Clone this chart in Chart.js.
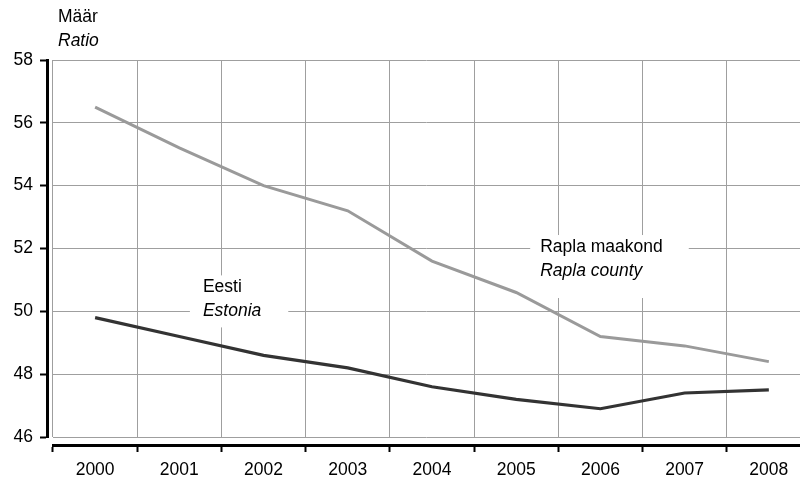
<!DOCTYPE html>
<html>
<head>
<meta charset="utf-8">
<script src="https://cdn.jsdelivr.net/npm/chart.js@4"></script>
<style>
html,body{margin:0;padding:0;background:#fff;}
canvas{display:block;}
</style>
</head>
<body>
<canvas id="c" width="800" height="479"></canvas>
<script>
// ---- data ----
const years = [2000, 2001, 2002, 2003, 2004, 2005, 2006, 2007, 2008];
const raplaCounty = [56.5, 55.2, 54.0, 53.2, 51.6, 50.6, 49.2, 48.9, 48.4];
const estonia = [49.8, 49.2, 48.6, 48.2, 47.6, 47.2, 46.9, 47.4, 47.5];
const yTicks = [46, 48, 50, 52, 54, 56, 58];
const yTitle = ['Määr', 'Ratio'];
const raplaLabel = ['Rapla maakond', 'Rapla county'];
const estoniaLabel = ['Eesti', 'Estonia'];

// ---- presentation ----
const FONT = "'Liberation Sans', Arial, sans-serif";
const FS = 17.5;
const GRID = '#9f9f9f';

const annotations = [
  {lines: estoniaLabel, x: 2001.28, y: 50.38, pad: {l: 13, r: 27, t: 24, b: 28}},
  {lines: raplaLabel, x: 2005.285, y: 51.665, pad: {l: 10, r: 26, t: 24, b: 39}}
];

const labelPlugin = {
  id: 'labels',
  beforeDatasetsDraw(chart) {
    const ctx = chart.ctx;
    const xs = chart.scales.x, ys = chart.scales.y;
    ctx.save();
    annotations.forEach(a => {
      const px = xs.getPixelForValue(a.x);
      const py = ys.getPixelForValue(a.y);
      const lh = 23.5;
      ctx.font = FS + 'px ' + FONT;
      const w1 = ctx.measureText(a.lines[0]).width;
      ctx.font = 'italic ' + FS + 'px ' + FONT;
      const w2 = ctx.measureText(a.lines[1]).width;
      const w = Math.max(w1, w2);
      ctx.fillStyle = '#fff';
      ctx.fillRect(px - a.pad.l, py - a.pad.t, w + a.pad.l + a.pad.r, a.pad.t + a.pad.b);
      ctx.fillStyle = '#000';
      ctx.textBaseline = 'middle';
      ctx.textAlign = 'left';
      ctx.font = FS + 'px ' + FONT;
      ctx.fillText(a.lines[0], px, py - lh / 2);
      ctx.font = 'italic ' + FS + 'px ' + FONT;
      ctx.fillText(a.lines[1], px, py + lh / 2);
    });
    ctx.restore();
  },
  afterDraw(chart) {
    const ctx = chart.ctx;
    const left = chart.chartArea.left;
    ctx.save();
    ctx.fillStyle = '#000';
    ctx.textBaseline = 'middle';
    ctx.textAlign = 'left';
    ctx.font = FS + 'px ' + FONT;
    ctx.fillText(yTitle[0], left + 5, 17);
    ctx.font = 'italic ' + FS + 'px ' + FONT;
    ctx.fillText(yTitle[1], left + 5, 41);
    ctx.restore();
  }
};

const setYearTicks = s => { s.ticks = years.map(v => ({value: v})); };
const setYTicks = s => { s.ticks = yTicks.map(v => ({value: v})); };

new Chart(document.getElementById('c'), {
  type: 'line',
  data: {
    datasets: [
      {
        label: raplaLabel[0],
        data: years.map((yr, i) => ({x: yr, y: raplaCounty[i]})),
        borderColor: '#9a9a9a',
        borderWidth: 3,
        pointRadius: 0,
        tension: 0,
        fill: false
      },
      {
        label: estoniaLabel[0],
        data: years.map((yr, i) => ({x: yr, y: estonia[i]})),
        borderColor: '#333333',
        borderWidth: 3.2,
        pointRadius: 0,
        tension: 0,
        fill: false
      }
    ]
  },
  options: {
    responsive: false,
    animation: false,
    devicePixelRatio: 1,
    layout: {padding: {top: 60, left: 0, right: 0, bottom: 0}},
    plugins: {legend: {display: false}, tooltip: {enabled: false}, title: {display: false}},
    scales: {
      x: {
        type: 'linear', position: 'bottom', weight: 0,
        min: 1999.5, max: 2008.37,
        afterBuildTicks: setYearTicks,
        afterFit: s => { s.height = 8; },
        grid: {offset: true, color: GRID, lineWidth: 1, drawTicks: true, tickLength: 8, tickColor: 'rgba(0,0,0,0)'},
        border: {display: false},
        ticks: {display: false}
      },
      x2: {
        type: 'linear', position: 'bottom', weight: 1,
        min: 1999.5, max: 2008.37,
        afterBuildTicks: setYearTicks,
        afterFit: s => { s.height = 34; },
        grid: {display: true, offset: true, drawOnChartArea: false, drawTicks: true, tickLength: 7, tickColor: '#000', tickWidth: 2},
        border: {display: true, color: '#000', width: 3},
        ticks: {autoSkip: false, maxRotation: 0, color: '#000', padding: 8, font: {family: FONT, size: FS}, callback: v => String(v)}
      },
      y: {
        type: 'linear', position: 'left', weight: 0,
        min: 46, max: 58,
        afterBuildTicks: setYTicks,
        afterFit: s => { s.width = 6; },
        grid: {color: GRID, lineWidth: 1, drawTicks: true, tickLength: 6, tickColor: 'rgba(0,0,0,0)'},
        border: {display: false},
        ticks: {display: false}
      },
      y2: {
        type: 'linear', position: 'left', weight: 1,
        min: 46, max: 58,
        afterBuildTicks: setYTicks,
        afterFit: s => { s.width = 47; },
        grid: {display: true, drawOnChartArea: false, drawTicks: true, tickLength: 7, tickColor: '#000', tickWidth: 2},
        border: {display: true, color: '#000', width: 3},
        ticks: {color: '#000', padding: 7, font: {family: FONT, size: FS}}
      }
    }
  },
  plugins: [labelPlugin]
});
</script>
</body>
</html>
